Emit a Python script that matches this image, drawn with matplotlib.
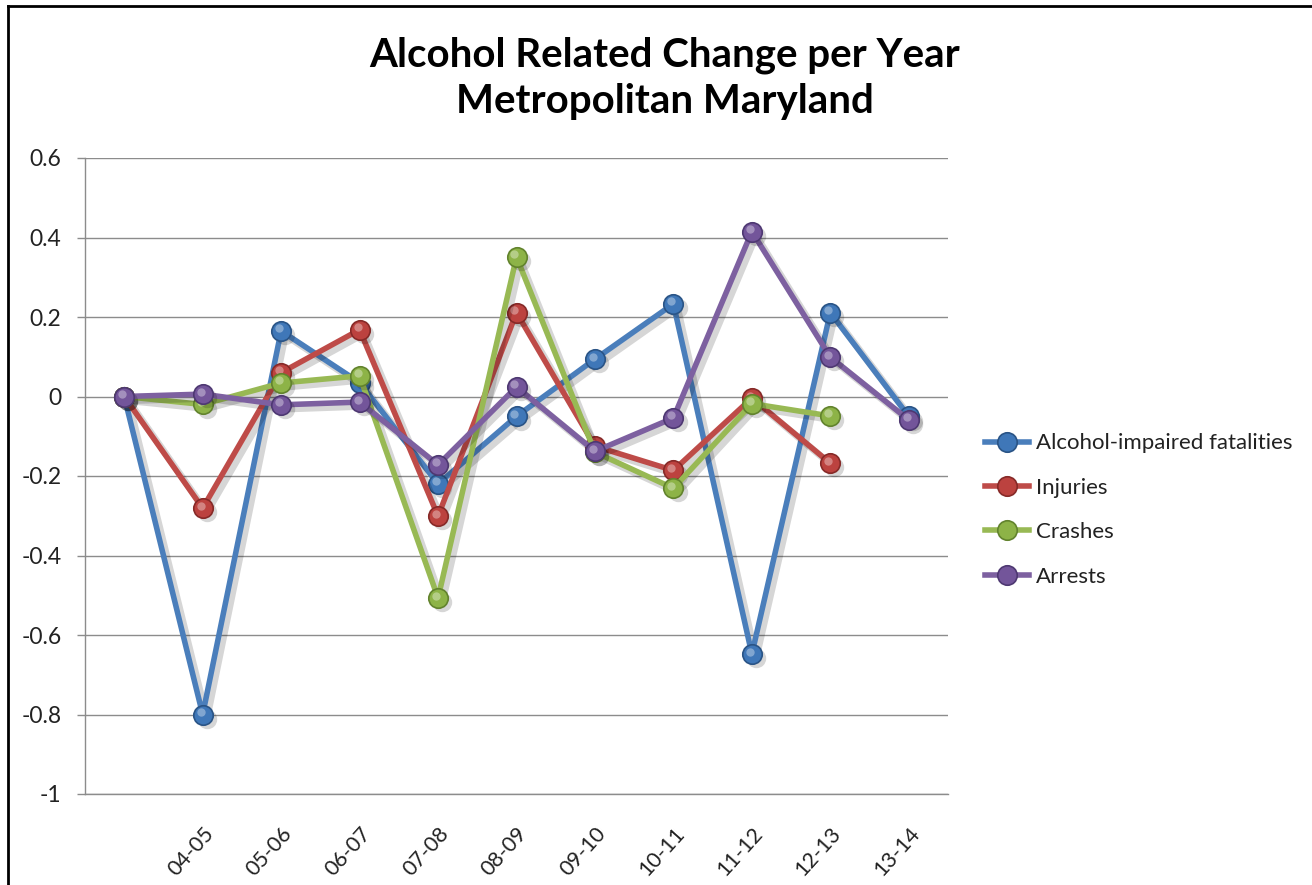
import numpy as np
import matplotlib
matplotlib.use("Agg")
import matplotlib.pyplot as plt
from matplotlib.lines import Line2D
import matplotlib.patheffects as pe
from matplotlib.transforms import offset_copy

categories = ["", "04-05", "05-06", "06-07", "07-08", "08-09", "09-10", "10-11", "11-12", "12-13", "13-14"]
fatalities = [0.0, -0.80, 0.165, 0.035, -0.22, -0.05, 0.094, 0.233, -0.648, 0.211, -0.05]
injuries = [0.0, -0.281, 0.06, 0.168, -0.301, 0.211, -0.125, -0.186, -0.004, -0.168, np.nan]
crashes = [0.0, -0.02, 0.034, 0.052, -0.507, 0.351, -0.14, -0.231, -0.018, -0.049, np.nan]
arrests = [0.0, 0.006, -0.021, -0.014, -0.172, 0.024, -0.138, -0.054, 0.415, 0.099, -0.059]
series_names = ["Alcohol-impaired fatalities", "Injuries", "Crashes", "Arrests"]
y_ticks = [0.6, 0.4, 0.2, 0.0, -0.2, -0.4, -0.6, -0.8, -1.0]
y_tick_labels = ["0.6", "0.4", "0.2", "0", "-0.2", "-0.4", "-0.6", "-0.8", "-1"]
title = "Alcohol Related Change per Year\nMetropolitan Maryland"

line_colors = ["#4A7EBB", "#BE4B48", "#98B954", "#7D60A0"]
marker_faces = ["#3F77B8", "#BC423F", "#8DB347", "#73559A"]
marker_edges = ["#2A5486", "#862A28", "#62832D", "#4E3872"]

FONT = ["Lato", "DejaVu Sans"]
plt.rcParams["font.family"] = FONT

W, H = 1312, 885
fig = plt.figure(figsize=(W / 100, H / 100), dpi=100)
ax = fig.add_axes([85 / W, 1 - 794 / H, (948 - 85) / W, (794 - 158) / H])

x = np.arange(len(categories))
line_shadow = [pe.SimpleLineShadow(offset=(3, -3), shadow_color="black", alpha=0.16, linewidth=5), pe.Normal()]
shadow_tr = offset_copy(ax.transData, fig=fig, x=3, y=-3, units="points")
hl_tr = offset_copy(ax.transData, fig=fig, x=-1.5, y=1.8, units="points")
for i, (vals, name, lc, mf, me) in enumerate(zip([fatalities, injuries, crashes, arrests], series_names,
                                                 line_colors, marker_faces, marker_edges)):
    z = 3 + i * 0.1
    ax.plot(x, vals, color=lc, lw=4.0, path_effects=line_shadow, zorder=z,
            solid_capstyle="round")
    ax.plot(x, vals, ls="none", marker="o", markersize=14, markerfacecolor="black",
            markeredgecolor="none", alpha=0.16, transform=shadow_tr, zorder=z)
    ax.plot(x, vals, ls="none", marker="o", markersize=14, markerfacecolor=mf,
            markeredgecolor=me, markeredgewidth=1.2, zorder=z + 0.02)
    ax.plot(x, vals, ls="none", marker="o", markersize=6, markerfacecolor="white",
            markeredgecolor="none", alpha=0.35, transform=hl_tr, zorder=z + 0.04)
    # legend proxy
    ax.plot([], [], color=lc, lw=4.0, marker="o", markersize=14, markerfacecolor=mf,
            markeredgecolor=me, markeredgewidth=1.2, label=name)

ax.set_xlim(-0.5, len(categories) - 0.5)
ax.set_ylim(-1.0, 0.6)
ax.set_yticks(y_ticks)
ax.set_yticklabels(y_tick_labels, fontsize=16.5, color="#222222")
ax.set_xticks(x)
ax.set_xticklabels(categories, fontsize=15.5, rotation=48, ha="right",
                   rotation_mode="anchor", color="#222222")
ax.tick_params(axis="x", length=0, pad=21)
ax.tick_params(axis="y", length=6, width=1, color="#8C8C8C", pad=11, direction="out")
ax.grid(axis="y", color="#8C8C8C", lw=1)
ax.set_axisbelow(True)
for s in ["top", "right"]:
    ax.spines[s].set_visible(False)
for s in ["left", "bottom"]:
    ax.spines[s].set_color("#8C8C8C")
    ax.spines[s].set_linewidth(1)

fig.text(665 / W, 1 - 78 / H, title, ha="center", va="center", fontsize=29,
         fontweight="bold", linespacing=1.3, color="black")

leg = fig.legend(loc="center left", bbox_to_anchor=(985 / W, 1 - 510 / H), frameon=False,
                 fontsize=16, handlelength=2.0, handletextpad=0.3, labelspacing=1.1,
                 borderpad=0, borderaxespad=0)
for t in leg.get_texts():
    t.set_color("#222222")

fig.add_artist(Line2D([8 / W, 8 / W], [0, 1 - 6 / H], color="black", lw=2, transform=fig.transFigure))
fig.add_artist(Line2D([8 / W, 1], [1 - 6 / H, 1 - 6 / H], color="black", lw=2, transform=fig.transFigure))

fig.savefig("out.png", dpi=100, facecolor="white")
